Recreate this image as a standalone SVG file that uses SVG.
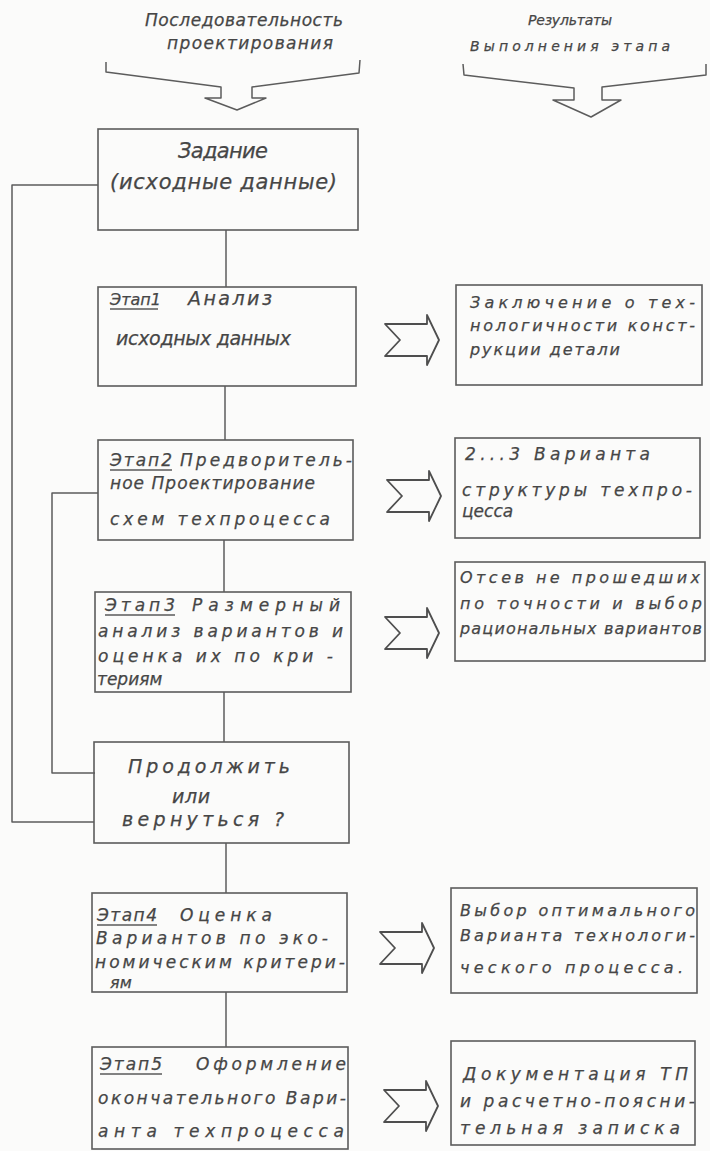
<svg xmlns="http://www.w3.org/2000/svg" width="710" height="1151" viewBox="0 0 710 1151">
  <style>
    .bg { fill: #fbfbfa; }
    .box { fill: none; stroke: #5c5c5c; stroke-width: 1.6; }
    .ln { fill: none; stroke: #5c5c5c; stroke-width: 1.5; stroke-linejoin: round; }
    .ul { stroke: #5a5a5a; stroke-width: 1.3; }
    .arr { fill: none; stroke: #4e4e4e; stroke-width: 1.8; stroke-linejoin: round; }
    text { font-family: "DejaVu Sans", "Liberation Sans", sans-serif; font-style: oblique; fill: #464646; stroke: #464646; stroke-width: 0.25; }
    .h { font-size: 17px; }
    .big { font-size: 21px; }
    .m { font-size: 19px; }
    .t { font-size: 17px; }
    .s { font-size: 16px; }
    .xs { font-size: 14px; }
  </style>
  <defs>
    <!-- notched block arrow pointing right, origin at tail, centred vertically -->
    <path id="blk" d="M0,-16 L42,-16 L42,-25 L54,0 L42,25 L42,16 L0,16 L15,0 Z"/>
  </defs>

  <rect class="bg" x="0" y="0" width="710" height="1151"/>

  <!-- column headings -->
  <g id="head-left">
    <text class="h" x="145" y="26" textLength="198" lengthAdjust="spacing">Последовательность</text>
    <text class="h" x="167" y="49" textLength="166" lengthAdjust="spacing">проектирования</text>
    <path class="ln" d="M106,62 L106,72 L221,87 L221,98 L205,98 L237,110 L266,98 L252,98 L252,87 L359,73 L360,60"/>
  </g>
  <g id="head-right">
    <text class="xs" x="528" y="25" textLength="84" lengthAdjust="spacing">Результаты</text>
    <text class="xs" x="470" y="51" textLength="200" lengthAdjust="spacing">Выполнения  этапа</text>
    <path class="ln" d="M463,64 L464,75 L574,88 L574,100 L553,100 L591,117 L621,100 L602,100 L602,87 L706,75 L706,64"/>
  </g>

  <!-- connectors -->
  <g id="connectors">
    <line class="ln" x1="226" y1="230" x2="226" y2="287"/>
    <line class="ln" x1="225" y1="386" x2="225" y2="440"/>
    <line class="ln" x1="224" y1="540" x2="224" y2="592"/>
    <line class="ln" x1="224" y1="692" x2="224" y2="742"/>
    <line class="ln" x1="226" y1="843" x2="226" y2="893"/>
    <line class="ln" x1="226" y1="992" x2="226" y2="1047"/>
    <polyline class="ln" points="98,185 12,185 12,822 94,822"/>
    <polyline class="ln" points="98,493 52,493 52,773 95,773"/>
    <use href="#blk" class="arr" x="385" y="340"/>
    <use href="#blk" class="arr" x="387" y="496"/>
    <use href="#blk" class="arr" x="385" y="633"/>
    <use href="#blk" class="arr" x="380" y="948"/>
    <use href="#blk" class="arr" x="384" y="1106"/>
  </g>

  <!-- left column: design stages -->
  <g id="task">
    <rect class="box" x="98" y="129" width="260" height="101"/>
    <text class="big" x="178" y="158" textLength="90" lengthAdjust="spacing">Задание</text>
    <text class="big" x="110" y="189" textLength="227" lengthAdjust="spacing">(исходные данные)</text>
  </g>
  <g id="stage1">
    <rect class="box" x="98" y="287" width="258" height="99"/>
    <text class="s" x="110" y="305">Этап1</text>
    <line class="ul" x1="110" y1="309" x2="158" y2="309"/>
    <text class="m" x="188" y="305" textLength="84" lengthAdjust="spacing">Анализ</text>
    <text class="m" x="116" y="345" textLength="175" lengthAdjust="spacing">исходных данных</text>
  </g>
  <g id="stage2">
    <rect class="box" x="98" y="440" width="255" height="100"/>
    <text class="t" x="110" y="466" textLength="62" lengthAdjust="spacing">Этап2</text>
    <line class="ul" x1="110" y1="470" x2="172" y2="470"/>
    <text class="t" x="180" y="466" textLength="172" lengthAdjust="spacing">Предворитель-</text>
    <text class="t" x="110" y="489" textLength="205" lengthAdjust="spacing">ное Проектирование</text>
    <text class="t" x="110" y="525" textLength="220" lengthAdjust="spacing">схем  техпроцесса</text>
  </g>
  <g id="stage3">
    <rect class="box" x="95" y="592" width="256" height="100"/>
    <text class="t" x="105" y="611" textLength="70" lengthAdjust="spacing">Этап3</text>
    <line class="ul" x1="105" y1="615" x2="175" y2="615"/>
    <text class="t" x="192" y="611" textLength="148" lengthAdjust="spacing">Размерный</text>
    <text class="t" x="98" y="637" textLength="245" lengthAdjust="spacing">анализ  вариантов и</text>
    <text class="t" x="98" y="662" textLength="235" lengthAdjust="spacing">оценка их  по кри -</text>
    <text class="t" x="97" y="685">териям</text>
  </g>
  <g id="decision">
    <rect class="box" x="94" y="742" width="255" height="101"/>
    <text class="m" x="128" y="773" textLength="162" lengthAdjust="spacing">Продолжить</text>
    <text class="m" x="172" y="803" textLength="38" lengthAdjust="spacing">или</text>
    <text class="m" x="122" y="826" textLength="162" lengthAdjust="spacing">вернуться ?</text>
  </g>
  <g id="stage4">
    <rect class="box" x="92" y="893" width="255" height="99"/>
    <text class="t" x="97" y="921" textLength="60" lengthAdjust="spacing">Этап4</text>
    <line class="ul" x1="97" y1="925" x2="157" y2="925"/>
    <text class="t" x="180" y="921" textLength="92" lengthAdjust="spacing">Оценка</text>
    <text class="t" x="96" y="944" textLength="232" lengthAdjust="spacing">Вариантов  по эко-</text>
    <text class="t" x="95" y="968" textLength="250" lengthAdjust="spacing">номическим критери-</text>
    <text class="s" x="110" y="988">ям</text>
  </g>
  <g id="stage5">
    <rect class="box" x="92" y="1047" width="256" height="102"/>
    <text class="t" x="100" y="1070" textLength="62" lengthAdjust="spacing">Этап5</text>
    <line class="ul" x1="100" y1="1074" x2="162" y2="1074"/>
    <text class="t" x="196" y="1070" textLength="150" lengthAdjust="spacing">Оформление</text>
    <text class="t" x="98" y="1104" textLength="248" lengthAdjust="spacing">окончательного Вари-</text>
    <text class="t" x="98" y="1137" textLength="246" lengthAdjust="spacing">анта  техпроцесса</text>
  </g>

  <!-- right column: stage results -->
  <g id="result1">
    <rect class="box" x="456" y="285" width="246" height="100"/>
    <text class="s" x="470" y="308" textLength="225" lengthAdjust="spacing">Заключение о тех-</text>
    <text class="s" x="470" y="331" textLength="225" lengthAdjust="spacing">нологичности конст-</text>
    <text class="s" x="470" y="355" textLength="150" lengthAdjust="spacing">рукции детали</text>
  </g>
  <g id="result2">
    <rect class="box" x="455" y="438" width="245" height="100"/>
    <text class="h" x="465" y="460" textLength="185" lengthAdjust="spacing">2...3 Варианта</text>
    <text class="h" x="462" y="496" textLength="230" lengthAdjust="spacing">структуры техпро-</text>
    <text class="h" x="462" y="517">цесса</text>
  </g>
  <g id="result3">
    <rect class="box" x="455" y="562" width="250" height="99"/>
    <text class="s" x="460" y="583" textLength="240" lengthAdjust="spacing">Отсев не прошедших</text>
    <text class="s" x="460" y="609" textLength="242" lengthAdjust="spacing">по точности и выбор</text>
    <text class="s" x="460" y="634" textLength="242" lengthAdjust="spacing">рациональных вариантов</text>
  </g>
  <g id="result4">
    <rect class="box" x="451" y="888" width="246" height="105"/>
    <text class="s" x="460" y="916" textLength="235" lengthAdjust="spacing">Выбор  оптимального</text>
    <text class="s" x="460" y="941" textLength="235" lengthAdjust="spacing">Варианта технологи-</text>
    <text class="s" x="460" y="973" textLength="223" lengthAdjust="spacing">ческого  процесса.</text>
  </g>
  <g id="result5">
    <rect class="box" x="451" y="1041" width="244" height="104"/>
    <text class="h" x="463" y="1080" textLength="225" lengthAdjust="spacing">Документация  ТП</text>
    <text class="h" x="460" y="1107" textLength="235" lengthAdjust="spacing">и расчетно-поясни-</text>
    <text class="h" x="460" y="1134" textLength="220" lengthAdjust="spacing">тельная  записка</text>
  </g>
</svg>
